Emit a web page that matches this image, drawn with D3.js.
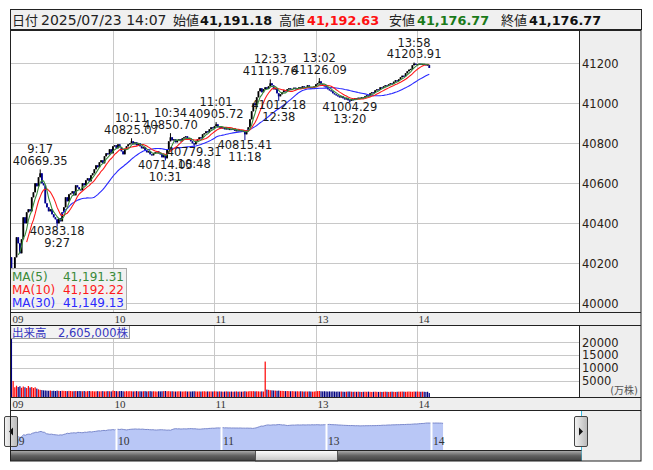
<!DOCTYPE html>
<html><head><meta charset="utf-8">
<script src="https://cdn.jsdelivr.net/npm/d3@7"></script>
<style>body{margin:0;background:#fff;}</style>
</head><body><svg id="c" width="653" height="470"></svg>
<script>
// ---------------- DATA ----------------
const hdrLabels = ["日付", "始値", "高値", "安値", "終値"];
const hdrDate = "2025/07/23 14:07";
const hdrValues = ["41,191.18", "41,192.63", "41,176.77", "41,176.77"];

const hourLabels = ["09", "10", "11", "13", "14"];
const priceTicks = [40000, 40200, 40400, 40600, 40800, 41000, 41200];
const volTicks = [5000, 10000, 15000, 20000];

const firstOpen = 40230;
// 1-minute closes, 9:00-11:29 then 12:30-14:07
const closes = [
 40170,40175,40230,40330,40300,40250,40320,40430,40400,40455,
 40470,40460,40530,40555,40600,40585,40630,40650,40600,40590,
 40500,40480,40460,40470,40445,40430,40420,40400,40425,40410,
 40455,40480,40530,40510,40545,40550,40560,40540,40590,40580,
 40570,40565,40600,40590,40615,40625,40610,40640,40650,40670,
 40690,40680,40705,40715,40700,40735,40750,40745,40770,40750,
 40785,40790,40775,40795,40780,40760,40745,40770,40785,40795,
 40800,40810,40795,40805,40790,40800,40785,40775,40780,40765,
 40755,40760,40745,40740,40750,40755,40760,40750,40745,40730,
 40740,40725,40770,40810,40830,40815,40820,40805,40815,40820,
 40810,40825,40830,40835,40820,40825,40810,40800,40795,40810,
 40820,40830,40825,40845,40850,40860,40855,40870,40880,40875,
 40885,40895,40880,40885,40875,40880,40870,40875,40870,40872,
 40868,40875,40862,40865,40860,40866,40858,40862,40845,40860,
 40880,40920,40960,41000,40990,41030,41060,41075,41055,41070,
 41080,41072,41085,41100,41090,41070,41075,41050,41035,41045,
 41055,41065,41060,41070,41075,41068,41072,41078,41070,41075,
 41080,41072,41085,41078,41082,41090,41080,41075,41080,41085,
 41095,41100,41110,41095,41090,41085,41080,41070,41065,41060,
 41050,41045,41040,41035,41030,41035,41025,41020,41025,41015,
 41012,41020,41018,41025,41022,41028,41025,41030,41028,41035,
 41040,41038,41050,41055,41052,41065,41070,41068,41080,41078,
 41085,41090,41088,41095,41100,41098,41108,41115,41112,41120,
 41130,41138,41135,41150,41160,41168,41172,41190,41198,41195,
 41196,41198,41194,41197,41195,41193,41191.18,41176.77
];
// volumes (万株)
const volumes = [
 26000,4900,2500,3100,2600,2900,2300,2800,2500,2200,
 3000,2400,2600,2200,2500,2000,1700,1500,1400,1300,
 1250,1200,1150,1250,1100,1150,1050,1200,1100,1050,
 1150,1100,1050,1000,1100,1050,950,1000,1050,1000,
 1050,1000,950,1050,900,1000,1050,950,1000,900,
 950,1000,900,950,1000,900,950,1000,950,900,
 1200,1050,1000,950,1000,1050,950,900,1000,950,
 1000,950,900,950,1000,900,950,900,950,1000,
 900,950,1000,900,950,900,850,950,900,950,
 1000,1050,950,1000,900,950,900,850,900,950,
 900,850,900,950,850,900,850,900,950,900,
 850,900,850,900,950,850,900,850,900,850,
 950,900,850,900,850,800,850,900,850,800,
 850,800,850,900,800,850,800,850,950,850,
 900,1000,950,1000,900,950,900,850,900,850,
 12500,1600,1500,1350,1300,1250,1200,1150,1200,1100,
 1100,1050,1000,1050,1000,950,1000,950,900,950,
 900,950,900,850,900,850,900,850,800,850,
 950,1000,1050,950,900,950,900,850,900,850,
 900,850,800,850,800,850,800,750,800,850,
 850,800,750,800,750,800,750,700,750,800,
 750,800,750,700,750,800,750,700,750,700,
 750,800,750,700,750,800,750,700,750,800,
 800,850,800,750,800,850,800,750,850,800,
 850,800,750,800,750,700,750,260.5
];
// annotated highs / lows
const extIdx   = [17, 27, 71, 91, 94, 108, 121, 138, 153, 158, 182, 200, 238];
const extVal   = [40669.35, 40383.18, 40825.07, 40714.05, 40850.70, 40779.31, 40905.72, 40815.41, 41119.76, 41012.18, 41126.09, 41004.29, 41203.91];
const extKind  = ["H","L","H","L","H","L","H","L","H","L","H","L","H"];

const maPeriods = [5, 10, 30];
const maNames = ["MA(5)", "MA(10)", "MA(30)"];
const maLegendValues = ["41,191.31", "41,192.22", "41,149.13"];
const maColors = ["#3a8a3a", "#ff1a1a", "#2a2aff"];
const volLabel = "出来高　2,605,000株";

// ---------------- HELPERS ----------------
const FONT = '"DejaVu Sans","Noto Sans CJK JP",sans-serif';
const SERIF = '"Liberation Serif","DejaVu Serif",serif';
function timeOf(i) {
  const m = i < 150 ? 9 * 60 + i : 12 * 60 + 30 + (i - 150);
  return Math.floor(m / 60) + ":" + String(m % 60).padStart(2, "0");
}
const hourIdx = d3.range(closes.length).filter(i => timeOf(i).endsWith(":00"));

const svg = d3.select("#c");
svg.append("rect").attr("width", 653).attr("height", 470).attr("fill", "#fff");
const defs = svg.append("defs");

// ---------------- SCALES ----------------
const x = d3.scaleBand().domain(d3.range(336)).range([10.6, 579]);
const cx = i => x(i) + x.bandwidth() / 2;
const y = d3.scaleLinear().domain([40000, 41200]).range([303.3, 63.3]);
const yv = d3.scaleLinear().domain([0, 20000]).range([393.7, 342.3]);
const xn = d3.scaleBand().domain(d3.range(327)).range([10.5, 582]);
const cxn = i => xn(i) + xn.bandwidth() / 2;
const yn = d3.scaleLinear().domain([39435, 41200]).range([450, 423]);

// ---------------- HEADER ----------------
svg.append("rect").attr("x", 10.5).attr("y", 9.5).attr("width", 631).attr("height", 20)
  .attr("fill", "#f0f0f0").attr("stroke", "#222");
const hdrX = [12, 41, 173, 200, 279, 307, 389, 417, 501, 529];
const hdrPieces = [
  {t: hdrLabels[0]}, {t: hdrDate, s: 14},
  {t: hdrLabels[1]}, {t: hdrValues[0], b: 1, c: "#111"},
  {t: hdrLabels[2]}, {t: hdrValues[1], b: 1, c: "#ff1010"},
  {t: hdrLabels[3]}, {t: hdrValues[2], b: 1, c: "#1a7a1a"},
  {t: hdrLabels[4]}, {t: hdrValues[3], b: 1, c: "#111"}
];
hdrPieces.forEach((p, k) => {
  svg.append("text").attr("x", hdrX[k]).attr("y", 24.5)
    .attr("font-family", FONT).attr("font-size", p.b ? 12.8 : (p.s || 13))
    .attr("font-weight", p.b ? "bold" : "normal")
    .attr("fill", p.c || "#222").text(p.t);
});

// ---------------- PRICE PANEL ----------------
defs.append("clipPath").attr("id", "pclip").append("rect")
  .attr("x", 10.5).attr("y", 31).attr("width", 568.5).attr("height", 281);
const gp = svg.append("g").attr("clip-path", "url(#pclip)");
gp.selectAll("line.hg").data(priceTicks).join("line")
  .attr("x1", 10.5).attr("x2", 579).attr("y1", d => Math.round(y(d)) + 0.5).attr("y2", d => Math.round(y(d)) + 0.5)
  .attr("stroke", "#c8c8c8");
gp.selectAll("line.vg").data(hourIdx.slice(1)).join("line")
  .attr("x1", d => Math.round(cx(d)) + 0.5).attr("x2", d => Math.round(cx(d)) + 0.5)
  .attr("y1", 31).attr("y2", 312).attr("stroke", "#c8c8c8");

const candles = closes.map((c, i) => {
  const o = i === 0 ? firstOpen : closes[i - 1];
  let hi = Math.max(o, c), lo = Math.min(o, c);
  const k = extIdx.indexOf(i);
  if (k >= 0) { if (extKind[k] === "H") hi = extVal[k]; else lo = extVal[k]; }
  return {i, o, c, hi, lo, up: c >= o};
});
const gc = gp.append("g");
gc.selectAll("line").data(candles).join("line")
  .attr("x1", d => cx(d.i)).attr("x2", d => cx(d.i))
  .attr("y1", d => y(d.hi)).attr("y2", d => y(d.lo))
  .attr("stroke", d => d.up ? "#000" : "#000090").attr("stroke-width", 1);
gc.selectAll("rect").data(candles).join("rect")
  .attr("x", d => cx(d.i) - 0.9).attr("width", 1.8)
  .attr("y", d => y(Math.max(d.o, d.c)))
  .attr("height", d => Math.max(1.2, Math.abs(y(d.o) - y(d.c))))
  .attr("fill", d => d.up ? "#000" : "#000090");

// moving averages
const maOrder = [2, 1, 0];
maOrder.forEach(k => {
  const p = maPeriods[k];
  const pts = [];
  for (let i = p - 1; i < closes.length; i++) pts.push([i, d3.mean(closes.slice(i - p + 1, i + 1))]);
  gp.append("path").datum(pts)
    .attr("d", d3.line().x(d => cx(d[0])).y(d => y(d[1])))
    .attr("fill", "none").attr("stroke", maColors[k]).attr("stroke-width", 1.1);
});

// annotations
extIdx.forEach((idx, k) => {
  const yy = y(extVal[k]);
  const hi = extKind[k] === "H";
  const g = gp.append("g").attr("font-family", FONT).attr("font-size", 11.5)
    .attr("fill", "#1a1a1a").attr("text-anchor", "middle");
  g.append("text").attr("x", cx(idx)).attr("y", hi ? yy - 16 : yy + 20.5).text(timeOf(idx));
  g.append("text").attr("x", cx(idx)).attr("y", hi ? yy - 4.5 : yy + 8.5).text(extVal[k].toFixed(2));
});

// MA legend
svg.append("rect").attr("x", 10.5).attr("y", 268.5).attr("width", 116).attr("height", 41)
  .attr("fill", "#eeeeee").attr("fill-opacity", 0.85).attr("stroke", "#aaa");
maNames.forEach((n, k) => {
  svg.append("text").attr("x", 12).attr("y", 280.5 + k * 13).attr("font-family", FONT)
    .attr("font-size", 12).attr("fill", maColors[k]).text(n);
  svg.append("text").attr("x", 124).attr("y", 280.5 + k * 13).attr("font-family", FONT)
    .attr("font-size", 12).attr("fill", maColors[k]).attr("text-anchor", "end").text(maLegendValues[k]);
});

// right axis panel
svg.append("rect").attr("x", 579.5).attr("y", 31).attr("width", 61.5).attr("height", 281).attr("fill", "#eeeeee");
svg.selectAll("text.py").data(priceTicks).join("text")
  .attr("x", 582).attr("y", d => y(d) + 4.3).attr("font-family", FONT).attr("font-size", 11.5)
  .attr("fill", "#2a2216").text(d => d);

// x strip
svg.append("rect").attr("x", 10.5).attr("y", 312.5).attr("width", 630.5).attr("height", 13).attr("fill", "#eeeeee");
hourIdx.forEach((idx, k) => {
  svg.append("text").attr("x", Math.round(cx(idx)) + 1.5).attr("y", 322.5).attr("font-family", SERIF)
    .attr("font-size", 11).attr("fill", "#333").text(hourLabels[k]);
});

// ---------------- VOLUME PANEL ----------------
defs.append("clipPath").attr("id", "vclip").append("rect")
  .attr("x", 10.5).attr("y", 325.5).attr("width", 568.5).attr("height", 71.5);
const gv = svg.append("g").attr("clip-path", "url(#vclip)");
gv.selectAll("line.hg").data(volTicks).join("line")
  .attr("x1", 10.5).attr("x2", 579).attr("y1", d => Math.round(yv(d)) + 0.5).attr("y2", d => Math.round(yv(d)) + 0.5)
  .attr("stroke", "#c8c8c8");
gv.selectAll("line.vg").data(hourIdx.slice(1)).join("line")
  .attr("x1", d => Math.round(cx(d)) + 0.5).attr("x2", d => Math.round(cx(d)) + 0.5)
  .attr("y1", 325).attr("y2", 397).attr("stroke", "#c8c8c8");
gv.selectAll("rect").data(volumes).join("rect")
  .attr("x", (d, i) => cx(i) - 0.6).attr("width", 1.2)
  .attr("y", d => yv(d)).attr("height", d => 397 - yv(d))
  .attr("fill", (d, i) => candles[i].up ? "#ff0000" : "#000080");
svg.append("rect").attr("x", 10.5).attr("y", 325.5).attr("width", 119).attr("height", 13)
  .attr("fill", "#f2f2f2").attr("fill-opacity", 0.92).attr("stroke", "#999");
svg.append("text").attr("x", 12).attr("y", 336.5).attr("font-family", FONT).attr("font-size", 11.5)
  .attr("fill", "#3636c0").text(volLabel);
svg.append("rect").attr("x", 579.5).attr("y", 325.5).attr("width", 61.5).attr("height", 71.5).attr("fill", "#eeeeee");
svg.selectAll("text.vy").data(volTicks).join("text")
  .attr("x", 582).attr("y", d => yv(d) + 4.3).attr("font-family", FONT).attr("font-size", 11.5)
  .attr("fill", "#2a2216").text(d => d);
svg.append("text").attr("x", 638).attr("y", 394).attr("text-anchor", "end").attr("font-family", FONT)
  .attr("font-size", 10).attr("fill", "#555").text("(万株)");
svg.append("rect").attr("x", 10.5).attr("y", 397.5).attr("width", 630.5).attr("height", 13).attr("fill", "#eeeeee");
hourIdx.forEach((idx, k) => {
  svg.append("text").attr("x", Math.round(cx(idx)) + 1.5).attr("y", 407.5).attr("font-family", SERIF)
    .attr("font-size", 11).attr("fill", "#333").text(hourLabels[k]);
});

// ---------------- NAVIGATOR ----------------
svg.append("rect").attr("x", 10.5).attr("y", 410.5).attr("width", 571).attr("height", 40).attr("fill", "#fff");
svg.append("path").datum(closes)
  .attr("d", d3.area().x((d, i) => cxn(i)).y0(450).y1(d => yn(d)))
  .attr("fill", "#b9c7f6");
svg.append("path").datum(closes)
  .attr("d", d3.line().x((d, i) => cxn(i)).y(d => yn(d)))
  .attr("fill", "none").attr("stroke", "#7b89cc").attr("stroke-width", 1);
hourIdx.slice(1).forEach(idx => {
  svg.append("line").attr("x1", Math.round(cxn(idx)) + 0.5).attr("x2", Math.round(cxn(idx)) + 0.5)
    .attr("y1", 415).attr("y2", 450).attr("stroke", "#fff").attr("stroke-width", 2);
});
hourIdx.forEach((idx, k) => {
  svg.append("text").attr("x", Math.round(cxn(idx)) + 2).attr("y", 445).attr("font-family", SERIF)
    .attr("font-size", 11.5).attr("fill", "#333").text(hourLabels[k]);
});
svg.append("rect").attr("x", 582).attr("y", 410.5).attr("width", 59).attr("height", 50.5).attr("fill", "#eeeeee");
// cyan edges
[10.5, 581.5].forEach(xx => svg.append("line").attr("x1", xx).attr("x2", xx).attr("y1", 410.5).attr("y2", 461)
  .attr("stroke", "#3bbbe0"));

// scrollbar
const gd = defs.append("linearGradient").attr("id", "sb").attr("x1", 0).attr("x2", 0).attr("y1", 0).attr("y2", 1);
gd.append("stop").attr("offset", 0).attr("stop-color", "#b0b0b0");
gd.append("stop").attr("offset", 0.5).attr("stop-color", "#606060");
gd.append("stop").attr("offset", 1).attr("stop-color", "#404040");
const gt = defs.append("linearGradient").attr("id", "th").attr("x1", 0).attr("x2", 0).attr("y1", 0).attr("y2", 1);
gt.append("stop").attr("offset", 0).attr("stop-color", "#ffffff");
gt.append("stop").attr("offset", 1).attr("stop-color", "#c4c4c4");
const gb = defs.append("linearGradient").attr("id", "bt").attr("x1", 0).attr("x2", 1).attr("y1", 0).attr("y2", 0);
gb.append("stop").attr("offset", 0).attr("stop-color", "#f4f4f4");
gb.append("stop").attr("offset", 1).attr("stop-color", "#b8b8b8");
svg.append("rect").attr("x", 10.5).attr("y", 450.5).attr("width", 571).attr("height", 10.5).attr("fill", "url(#sb)");
svg.append("rect").attr("x", 255.5).attr("y", 450.5).attr("width", 82).attr("height", 10.5)
  .attr("fill", "url(#th)").attr("stroke", "#555");
// arrow buttons
[[4.5, "L"], [574.5, "R"]].forEach(([bx, dir]) => {
  svg.append("rect").attr("x", bx).attr("y", 416.5).attr("width", 13).attr("height", 30).attr("rx", 1.5)
    .attr("fill", "url(#bt)").attr("stroke", "#444");
  const mx = bx + 6.5, my = 431.5;
  const pts = dir === "L" ? [[mx + 2, my - 4], [mx + 2, my + 4], [mx - 2, my]] : [[mx - 2, my - 4], [mx - 2, my + 4], [mx + 2, my]];
  svg.append("polygon").attr("points", pts.map(p => p.join(",")).join(" ")).attr("fill", "#111");
});

// ---------------- FRAME ----------------
const frame = svg.append("g").attr("stroke", "#222").attr("fill", "none");
frame.append("rect").attr("x", 10.5).attr("y", 30.5).attr("width", 630.5).attr("height", 430.5);
[312.5, 325.5, 397.5, 410.5].forEach(yy => frame.append("line").attr("x1", 10.5).attr("x2", 641).attr("y1", yy).attr("y2", yy));
frame.append("line").attr("x1", 579.5).attr("x2", 579.5).attr("y1", 30.5).attr("y2", 312.5);
frame.append("line").attr("x1", 579.5).attr("x2", 579.5).attr("y1", 325.5).attr("y2", 397.5);
frame.append("line").attr("x1", 10.5).attr("x2", 581.5).attr("y1", 450.5).attr("y2", 450.5);
</script>
</body></html>
